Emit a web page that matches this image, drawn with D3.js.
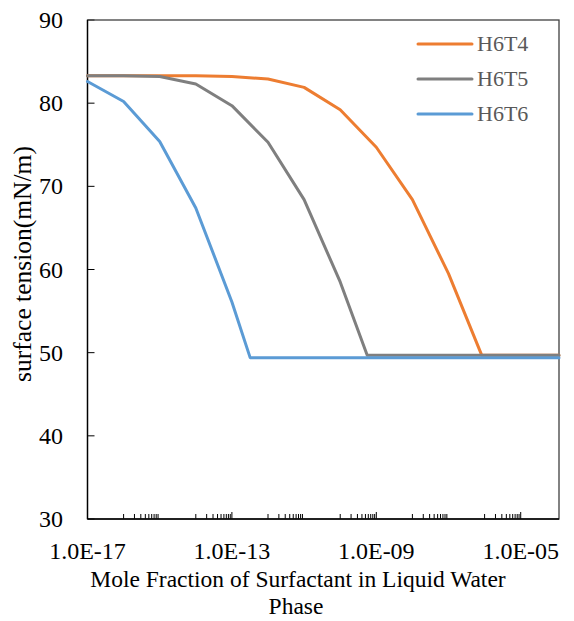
<!DOCTYPE html>
<html><head><meta charset="utf-8">
<script src="https://cdn.jsdelivr.net/npm/d3@7"></script>
<style>body{margin:0;background:#fff}svg{display:block}</style>
</head><body><svg id="c" width="574" height="621" font-family="'Liberation Serif', 'Times New Roman', Tinos, serif"></svg>
<script>
const seriesNames = ["H6T4","H6T5","H6T6"];
const seriesColors = ["#ED7D31","#7F7F7F","#5B9BD5"];
const xH6T4 = [1e-17,1e-16,1e-15,1e-14,1e-13,1e-12,1e-11,1e-10,1e-9,1e-8,1e-7,8.3e-7,1.15e-4];
const yH6T4 = [83.3,83.3,83.3,83.3,83.2,82.9,81.9,79.2,74.7,68.4,59.5,49.7,49.7];
const xH6T5 = [1e-17,1e-16,1e-15,1e-14,1e-13,1e-12,1e-11,1e-10,5.6e-10,1.15e-4];
const yH6T5 = [83.3,83.3,83.2,82.3,79.7,75.3,68.4,58.5,49.7,49.7];
const xH6T6 = [1e-17,1e-16,1e-15,1e-14,1e-13,3.2e-13,1.15e-4];
const yH6T6 = [82.6,80.2,75.4,67.4,56.1,49.4,49.4];
const yTicks = [30,40,50,60,70,80,90];
const xTickLabels = ["1.0E-17","1.0E-13","1.0E-09","1.0E-05"];
const xTickValues = [1e-17,1e-13,1e-9,1e-5];
const xTitle1 = "Mole Fraction of Surfactant in Liquid Water";
const xTitle2 = "Phase";
const yTitle = "surface tension(mN/m)";

const svg = d3.select("#c");
const L=87.5, R=559, T=20, B=519;
const x = d3.scaleLog().domain([1e-17,1.15e-4]).range([L,R]);
const y = d3.scaleLinear().domain([30,90]).range([B,T]);

const minor=[];
for(let m=-16;m<=-6;m+=2){for(let k=1;k<=9;k++){minor.push({v:k*Math.pow(10,m),tall:false});}}
xTickValues.slice(1).forEach(v=>minor.push({v:v,tall:true}));
svg.append("g").selectAll("line").data(minor).join("line")
 .attr("x1",d=>x(d.v)).attr("x2",d=>x(d.v)).attr("y1",B).attr("y2",d=>B-(d.tall?7:5))
 .attr("stroke","#000").attr("stroke-width",1);

svg.append("g").selectAll("line").data(yTicks).join("line")
 .attr("x1",L).attr("x2",L+7).attr("y1",d=>y(d)).attr("y2",d=>y(d)).attr("stroke","#000").attr("stroke-width",1);
svg.append("g").selectAll("text").data(yTicks).join("text")
 .attr("x",63).attr("y",d=>y(d)).attr("dy","0.34em").attr("text-anchor","end")
 .attr("font-size",24).attr("fill","#000").text(d=>d);

svg.append("g").selectAll("text").data(xTickValues).join("text")
 .attr("x",d=>x(d)).attr("y",559).attr("text-anchor","middle")
 .attr("font-size",24).attr("fill","#000").text((d,i)=>xTickLabels[i]);

svg.append("rect").attr("x",L).attr("y",T).attr("width",R-L).attr("height",B-T)
 .attr("fill","none").attr("stroke","#404040").attr("stroke-width",1.3);
svg.append("line").attr("x1",L).attr("x2",L).attr("y1",T).attr("y2",B).attr("stroke","#000").attr("stroke-width",1.3);
svg.append("line").attr("x1",L).attr("x2",R).attr("y1",B).attr("y2",B).attr("stroke","#000").attr("stroke-width",1.3);

const data=[xH6T4.map((v,i)=>[v,yH6T4[i]]), xH6T5.map((v,i)=>[v,yH6T5[i]]), xH6T6.map((v,i)=>[v,yH6T6[i]])];
const line=d3.line().x(d=>x(d[0])).y(d=>y(d[1]));
data.forEach((d,i)=>{
 svg.append("path").attr("d",line(d)).attr("fill","none").attr("stroke",seriesColors[i])
  .attr("stroke-width",3).attr("stroke-linejoin","round").attr("stroke-linecap","round");
});

seriesNames.forEach((n,i)=>{
 const yy=44+i*35;
 svg.append("line").attr("x1",418).attr("x2",472).attr("y1",yy).attr("y2",yy)
  .attr("stroke",seriesColors[i]).attr("stroke-width",3).attr("stroke-linecap","round");
 svg.append("text").attr("x",477).attr("y",yy).attr("dy","0.34em").attr("font-size",22)
  .attr("fill","#595959").text(n);
});

svg.append("text").attr("x",298).attr("y",587).attr("text-anchor","middle").attr("font-size",23.5).attr("fill","#000").text(xTitle1);
svg.append("text").attr("x",296).attr("y",614).attr("text-anchor","middle").attr("font-size",23.5).attr("fill","#000").text(xTitle2);
svg.append("text").attr("transform","translate(31,264) rotate(-90)").attr("text-anchor","middle").attr("font-size",25.5).attr("fill","#000").text(yTitle);
</script></body></html>
